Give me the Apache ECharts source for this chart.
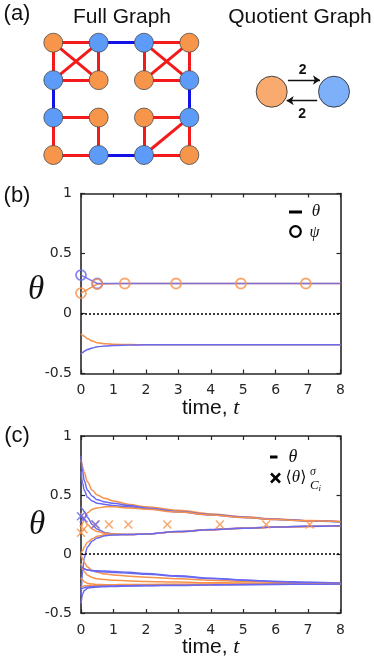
<!DOCTYPE html>
<html><head><meta charset="utf-8">
<script src="https://cdn.jsdelivr.net/npm/echarts@6/dist/echarts.min.js"></script>
<style>html,body{margin:0;padding:0;background:#fff}#c{width:374px;height:663px}</style>
</head><body><div id="c"></div>
<script>
// ---------------- DATA ----------------
// (a) Full graph: 4x4 node lattice, cluster colour per node
const nodeCols = [0,1,2,3, 0,1,2,3, 0,1,2,3, 0,1,2,3];
const nodeRows = [0,0,0,0, 1,1,1,1, 2,2,2,2, 3,3,3,3];
const nodeCluster = ['O','B','B','O', 'B','O','O','B', 'B','O','O','B', 'O','B','B','O'];
const redEdges = [[0,1],[0,4],[1,5],[4,5],[0,5],[1,4],
                  [2,3],[2,6],[3,7],[6,7],[2,7],[3,6],
                  [8,9],[8,12],[9,13],[12,13],
                  [10,11],[10,14],[11,15],[14,15],[11,14]];
const blueEdges = [[1,2],[4,8],[7,11],[13,14]];
// Quotient graph
const quotientCluster = ['O','B'];
const quotientX = [0, 1];
const quotientWeights = ['2','2'];
const arrowForward = [[0.26, 0.585],[0.775, 0.585]];
const arrowBackward = [[0.73, -0.45],[0.24, -0.45]];

// (b)
const tB = [0, 0.05, 0.1, 0.2, 0.35, 0.5, 0.75, 1, 1.5, 2, 3, 4, 5, 6, 7, 8];
const bLowOrange = [-0.17,-0.18,-0.19,-0.21,-0.23,-0.243,-0.253,-0.257,-0.259,-0.26,-0.26,-0.26,-0.26,-0.26,-0.26,-0.26];
const bLowBlue   = [-0.34,-0.325,-0.315,-0.30,-0.287,-0.278,-0.27,-0.266,-0.262,-0.261,-0.26,-0.26,-0.26,-0.26,-0.26,-0.26];
const psiOrangeT = [0, 0.5, 1.35, 2.93, 4.93, 6.93, 8];
const psiOrangeV = [0.17, 0.245, 0.25, 0.25, 0.25, 0.25, 0.25];
const psiBlueT = [0, 0.5, 8];
const psiBlueV = [0.32, 0.25, 0.25];

// (c)
const tC = [0, 0.05, 0.1, 0.2, 0.35, 0.5, 0.75, 1, 1.5, 2, 3, 4, 5, 6, 7, 8];
const cO1 = [0.80,0.74,0.69,0.61,0.54,0.50,0.47,0.45,0.42,0.40,0.37,0.34,0.315,0.297,0.284,0.276];
const cB1 = [0.83,0.70,0.62,0.54,0.49,0.46,0.44,0.43,0.41,0.39,0.36,0.335,0.312,0.294,0.281,0.273];
const cB2 = [0.70,0.60,0.54,0.48,0.45,0.43,0.42,0.41,0.40,0.385,0.355,0.33,0.31,0.292,0.28,0.272];
const cO2 = [0.20,0.26,0.30,0.35,0.38,0.39,0.40,0.40,0.39,0.38,0.355,0.33,0.31,0.293,0.281,0.273];
const cB4 = [0.40,0.38,0.36,0.31,0.25,0.21,0.18,0.17,0.165,0.17,0.19,0.207,0.22,0.229,0.235,0.24];
const cO3 = [0.35,0.32,0.29,0.25,0.21,0.19,0.175,0.168,0.165,0.17,0.188,0.205,0.218,0.228,0.234,0.239];
const cO4 = [0.00,0.03,0.06,0.10,0.13,0.15,0.163,0.166,0.166,0.17,0.188,0.205,0.218,0.228,0.234,0.239];
const cB5 = [-0.35,-0.15,-0.03,0.06,0.11,0.135,0.155,0.162,0.165,0.17,0.19,0.206,0.219,0.228,0.235,0.24];
const cB6 = [-0.12,-0.125,-0.13,-0.135,-0.14,-0.142,-0.145,-0.148,-0.155,-0.165,-0.185,-0.205,-0.22,-0.232,-0.24,-0.246];
const cB7 = [-0.10,-0.115,-0.125,-0.135,-0.143,-0.148,-0.152,-0.156,-0.163,-0.172,-0.19,-0.208,-0.222,-0.233,-0.241,-0.247];
const cO5 = [0.00,-0.04,-0.07,-0.11,-0.14,-0.155,-0.17,-0.178,-0.188,-0.196,-0.21,-0.222,-0.232,-0.24,-0.245,-0.249];
const cO6 = [-0.08,-0.12,-0.15,-0.18,-0.20,-0.21,-0.217,-0.222,-0.228,-0.232,-0.238,-0.243,-0.246,-0.248,-0.25,-0.251];
const cO7 = [-0.20,-0.22,-0.235,-0.248,-0.255,-0.258,-0.26,-0.26,-0.259,-0.258,-0.256,-0.255,-0.254,-0.253,-0.252,-0.252];
const cO8 = [-0.28,-0.275,-0.27,-0.268,-0.266,-0.265,-0.264,-0.263,-0.262,-0.261,-0.259,-0.258,-0.257,-0.256,-0.255,-0.254];
const cB8 = [-0.42,-0.34,-0.31,-0.29,-0.283,-0.28,-0.277,-0.275,-0.272,-0.27,-0.266,-0.263,-0.26,-0.258,-0.256,-0.255];
const cB9 = [-0.30,-0.29,-0.285,-0.28,-0.277,-0.275,-0.273,-0.271,-0.269,-0.267,-0.264,-0.261,-0.259,-0.257,-0.256,-0.255];
const avgOrangeT = [0, 0.08, 0.43, 0.86, 1.46, 2.66, 4.28, 5.71, 7.05];
const avgOrangeV = [0.18, 0.21, 0.25, 0.25, 0.25, 0.25, 0.25, 0.25, 0.25];
const avgBlueT = [0, 0.08, 0.45];
const avgBlueV = [0.32, 0.30, 0.25];

const xTicks = [0,1,2,3,4,5,6,7,8];
const yTicks = [-0.5, 0, 0.5, 1];

// ---------------- STYLE ----------------
const NODE_O = '#F7954B', NODE_B = '#5C9CF8';
const LINE_O = '#F6924A', LINE_B = '#6868F2';
const AX = '#262626';
const SANS = '"Liberation Sans", Arial, sans-serif';
const SERIF = '"Liberation Serif", "DejaVu Serif", serif';
const zip = (t, v) => t.map((x, i) => [x, v[i]]);

const chart = echarts.init(document.getElementById('c'), null, {renderer: 'canvas'});

function plotX(grid, pos, showLabel) {
  return {gridIndex: grid, type: 'value', position: pos, min: xTicks[0], max: xTicks[xTicks.length-1], interval: 1,
    axisLine: {show: true, onZero: false, lineStyle: {color: AX, width: 1.6}},
    axisTick: {show: true, inside: true, length: 4, lineStyle: {color: AX, width: 1.2}},
    axisLabel: {show: showLabel, margin: 10, color: AX, fontFamily: '"DejaVu Sans", sans-serif', fontSize: 14},
    splitLine: {show: false}};
}
function plotY(grid, pos, showLabel) {
  return {gridIndex: grid, type: 'value', position: pos, min: yTicks[0], max: yTicks[yTicks.length-1], interval: 0.5,
    axisLine: {show: true, onZero: false, lineStyle: {color: AX, width: 1.6}},
    axisTick: {show: true, inside: true, length: 4, lineStyle: {color: AX, width: 1.2}},
    axisLabel: {show: showLabel, margin: 9, color: AX, fontFamily: '"DejaVu Sans", sans-serif', fontSize: 14},
    splitLine: {show: false}};
}
function hidden(grid, min, max, inverse) {
  return {gridIndex: grid, type: 'value', min, max, inverse: !!inverse, show: false, splitLine: {show: false}};
}
function curve(xi, t, v, color, z) {
  return {type: 'line', xAxisIndex: xi, yAxisIndex: xi, data: zip(t, v), smooth: 0.35, smoothMonotone: 'x',
    showSymbol: false, symbol: 'none', silent: true, z: z || 2,
    lineStyle: {color, width: 1.5}, itemStyle: {color}};
}
const zeroLine = {silent: true, symbol: 'none', label: {show: false},
  lineStyle: {color: '#000', type: [2, 2], width: 1.6}, data: [{yAxis: 0}]};
const xPath = 'path://M0,1.2L1.2,0L5,3.8L8.8,0L10,1.2L6.2,5L10,8.8L8.8,10L5,6.2L1.2,10L0,8.8L3.8,5Z';

function txt(x, y, text, font, align, extra) {
  return Object.assign({type: 'text', x, y, silent: true, z: 10,
    style: {text, font, fill: '#111', align: align || 'center', verticalAlign: 'middle',
      textAlign: align || 'center', textVerticalAlign: 'middle'}}, extra || {});
}
function rich(x, y, text, richDef) {
  return {type: 'text', x, y, silent: true, z: 10,
    style: {text, rich: richDef, fill: '#111', align: 'center', verticalAlign: 'middle',
      textAlign: 'center', textVerticalAlign: 'middle'}};
}

const option = {
  animation: false,
  backgroundColor: '#fff',
  grid: [
    {left: 53.3, top: 42.7, width: 136, height: 112.3},
    {left: 271.7, top: 61.7, width: 62.3, height: 60},
    {left: 81, top: 193.5, width: 259.5, height: 180},
    {left: 81, top: 436, width: 259.5, height: 177}
  ],
  xAxis: [hidden(0, 0, 3), hidden(1, 0, 1), plotX(2, 'bottom', true), plotX(2, 'top', false), plotX(3, 'bottom', true), plotX(3, 'top', false)],
  yAxis: [hidden(0, 0, 3, true), hidden(1, -1.5, 1.5), plotY(2, 'left', true), plotY(2, 'right', false), plotY(3, 'left', true), plotY(3, 'right', false)],
  series: [
    // (a) full graph
    {type: 'graph', coordinateSystem: 'cartesian2d', xAxisIndex: 0, yAxisIndex: 0, silent: true,
      symbolSize: 19, label: {show: false}, emphasis: {disabled: true},
      data: nodeCols.map((c, i) => ({name: 'n' + i, value: [c, nodeRows[i]],
        itemStyle: {color: nodeCluster[i] === 'O' ? NODE_O : NODE_B, borderColor: '#4a4a4a', borderWidth: 0.8}})),
      links: redEdges.map(e => ({source: e[0], target: e[1], lineStyle: {color: '#F21A1A'}}))
        .concat(blueEdges.map(e => ({source: e[0], target: e[1], lineStyle: {color: '#1212E8'}}))),
      lineStyle: {width: 3, opacity: 1, curveness: 0}},
    // quotient graph arrows
    {type: 'lines', coordinateSystem: 'cartesian2d', xAxisIndex: 1, yAxisIndex: 1, silent: true,
      symbol: ['none', 'arrow'], symbolSize: 7,
      lineStyle: {color: '#111', width: 1.3, opacity: 1},
      data: [{coords: arrowForward}, {coords: arrowBackward}]},
    {type: 'scatter', xAxisIndex: 1, yAxisIndex: 1, silent: true, symbolSize: 31,
      data: quotientX.map((x, i) => ({value: [x, 0],
        itemStyle: {color: quotientCluster[i] === 'O' ? NODE_O : NODE_B, borderColor: '#222', borderWidth: 1}}))},
    // (b)
    Object.assign(curve(2, tB, bLowOrange, LINE_O), {markLine: zeroLine}),
    curve(2, tB, bLowBlue, LINE_B),
    {type: 'line', xAxisIndex: 2, yAxisIndex: 2, data: zip(psiOrangeT, psiOrangeV), showSymbol: false, symbol: 'none',
      silent: true, lineStyle: {color: LINE_O, width: 1.5}, z: 2},
    {type: 'line', xAxisIndex: 2, yAxisIndex: 2, data: zip(psiBlueT, psiBlueV), showSymbol: false, symbol: 'none',
      silent: true, lineStyle: {color: LINE_B, width: 1.5, opacity: 0.85}, z: 3},
    {type: 'scatter', xAxisIndex: 2, yAxisIndex: 2, silent: true, symbol: 'circle', symbolSize: 10, z: 4,
      data: zip(psiBlueT, psiBlueV).slice(0, -1),
      itemStyle: {color: 'rgba(0,0,0,0)', borderColor: LINE_B, borderWidth: 1.8}},
    {type: 'scatter', xAxisIndex: 2, yAxisIndex: 2, silent: true, symbol: 'circle', symbolSize: 10, z: 5,
      data: zip(psiOrangeT, psiOrangeV).slice(0, -1),
      itemStyle: {color: 'rgba(0,0,0,0)', borderColor: LINE_O, borderWidth: 1.8}},
    // (c)
    Object.assign(curve(4, tC, cO1, LINE_O), {markLine: zeroLine}),
    curve(4, tC, cB1, LINE_B),
    curve(4, tC, cB2, LINE_B),
    curve(4, tC, cO2, LINE_O),
    curve(4, tC, cB4, LINE_B),
    curve(4, tC, cO3, LINE_O),
    curve(4, tC, cO4, LINE_O),
    curve(4, tC, cB5, LINE_B),
    curve(4, tC, cO5, LINE_O),
    curve(4, tC, cB6, LINE_B),
    curve(4, tC, cO6, LINE_O),
    curve(4, tC, cB7, LINE_B),
    curve(4, tC, cO7, LINE_O),
    curve(4, tC, cB8, LINE_B),
    curve(4, tC, cO8, LINE_O),
    curve(4, tC, cB9, LINE_B),
    {type: 'scatter', xAxisIndex: 4, yAxisIndex: 4, silent: true, symbol: xPath, symbolSize: 9, z: 4,
      data: zip(avgOrangeT, avgOrangeV), itemStyle: {color: LINE_O}},
    {type: 'scatter', xAxisIndex: 4, yAxisIndex: 4, silent: true, symbol: xPath, symbolSize: 9, z: 5,
      data: zip(avgBlueT, avgBlueV), itemStyle: {color: LINE_B}}
  ],
  graphic: {elements: [
    txt(17, 14, '(a)', '22px ' + SANS),
    txt(17, 196, '(b)', '22px ' + SANS),
    txt(17, 436, '(c)', '22px ' + SANS),
    txt(122, 17, 'Full Graph', '21px ' + SANS),
    txt(300, 17, 'Quotient Graph', '21px ' + SANS),
    txt(302.7, 70, quotientWeights[0], 'bold 14px ' + SANS),
    txt(302.2, 114, quotientWeights[1], 'bold 14px ' + SANS),
    // axis titles
    rich(210.7, 408, '{a|time, }{b|t}', {a: {font: '21px ' + SANS, fill: '#111'}, b: {font: 'italic 22px ' + SERIF, fill: '#111'}}),
    rich(210.7, 647, '{a|time, }{b|t}', {a: {font: '21px ' + SANS, fill: '#111'}, b: {font: 'italic 22px ' + SERIF, fill: '#111'}}),
    txt(36, 290, 'θ', 'italic 33px ' + SERIF),
    txt(37, 525, 'θ', 'italic 33px ' + SERIF),
    // legend (b)
    {type: 'rect', shape: {x: 289, y: 210.5, width: 13, height: 3}, style: {fill: '#000'}, silent: true, z: 10},
    txt(316, 212, 'θ', 'italic 17px ' + SERIF),
    {type: 'circle', shape: {cx: 295.5, cy: 231.5, r: 5.3}, style: {fill: 'none', stroke: '#000', lineWidth: 2.2}, silent: true, z: 10},
    txt(314.5, 233, 'ψ', 'italic 16px ' + SERIF),
    // legend (c)
    {type: 'rect', shape: {x: 270, y: 455.5, width: 7.5, height: 3}, style: {fill: '#000'}, silent: true, z: 10},
    txt(293, 457, 'θ', 'italic 18px ' + SERIF),
    {type: 'line', shape: {x1: 271, y1: 473.5, x2: 280, y2: 482.5}, style: {stroke: '#000', lineWidth: 2.5}, silent: true, z: 10},
    {type: 'line', shape: {x1: 271, y1: 482.5, x2: 280, y2: 473.5}, style: {stroke: '#000', lineWidth: 2.5}, silent: true, z: 10},
    rich(296, 478, '{br|⟨}{t|θ}{br|⟩}', {br: {font: '16px "DejaVu Sans", sans-serif', fill: '#111'}, t: {font: 'italic 17px ' + SERIF, fill: '#111'}}),
    txt(310, 472, 'σ', 'italic 12px ' + SERIF, 'left'),
    txt(310, 485.5, 'C', 'italic 13px ' + SERIF, 'left'),
    txt(318.5, 488.5, 'i', 'italic 9px ' + SERIF, 'left')
  ]}
};
chart.setOption(option);
</script>
</body></html>
